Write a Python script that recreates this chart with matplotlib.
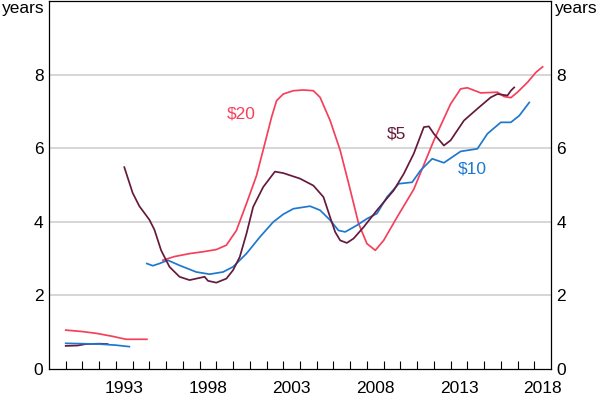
import matplotlib
matplotlib.use('Agg')
import matplotlib.pyplot as plt

plt.rcParams['font.family'] = ['Liberation Sans', 'DejaVu Sans']

RED = '#f5405c'
MAROON = '#651a3b'
BLUE = '#1f78cf'

# early (pre-1995) segments
red_early_x = [1990, 1991, 1991.85, 1992.8, 1993.6, 1994.85]
red_early_y = [1.05, 1.01, 0.96, 0.88, 0.80, 0.80]
blue_early_x = [1990, 1991, 1992, 1993, 1993.8]
blue_early_y = [0.69, 0.68, 0.67, 0.64, 0.60]
maroon_early_x = [1990, 1990.7, 1991.2, 1992, 1992.5]
maroon_early_y = [0.62, 0.63, 0.67, 0.68, 0.67]

# $5 note
maroon_x = [1993.5, 1994.0, 1994.4, 1995.0, 1995.3, 1995.7, 1996.2, 1996.8, 1997.4,
            1998.0, 1998.3, 1998.5, 1999.0, 1999.6, 2000.0, 2000.4, 2000.8, 2001.2,
            2001.8, 2002.5, 2003.0, 2004.0, 2004.8, 2005.4, 2005.8, 2006.1, 2006.4,
            2006.8, 2007.2, 2007.8, 2008.6, 2009.6, 2010.2, 2010.8, 2011.4, 2011.7,
            2012.0, 2012.6, 2013.0, 2013.8, 2014.6, 2015.4, 2015.8, 2016.4, 2016.6,
            2016.8]
maroon_y = [5.48, 4.78, 4.42, 4.05, 3.78, 3.22, 2.77, 2.50, 2.41,
            2.47, 2.50, 2.39, 2.34, 2.45, 2.68, 3.04, 3.67, 4.40,
            4.94, 5.36, 5.32, 5.17, 4.98, 4.67, 4.12, 3.72, 3.49,
            3.42, 3.54, 3.85, 4.31, 4.85, 5.30, 5.85, 6.57, 6.59,
            6.39, 6.07, 6.21, 6.75, 7.07, 7.38, 7.47, 7.43, 7.56,
            7.65]

# $20 note
red_x = [1995.8, 1996.5, 1997.4, 1998.2, 1999.0, 1999.6, 2000.2, 2000.8, 2001.4,
         2001.8, 2002.3, 2002.6, 2003.0, 2003.6, 2004.2, 2004.8, 2005.2, 2005.8,
         2006.4, 2006.9, 2007.5, 2008.0, 2008.5, 2009.0, 2009.8, 2010.8, 2012.0,
         2013.0, 2013.6, 2014.0, 2014.8, 2015.8, 2016.2, 2016.6, 2017.0, 2017.6,
         2018.1, 2018.5]
red_y = [2.95, 3.05, 3.13, 3.18, 3.24, 3.36, 3.76, 4.49, 5.25,
         5.95, 6.84, 7.29, 7.47, 7.56, 7.58, 7.56, 7.38, 6.75,
         5.94, 5.05, 3.95, 3.40, 3.22, 3.49, 4.12, 4.88, 6.21,
         7.20, 7.61, 7.64, 7.50, 7.52, 7.40, 7.37, 7.52, 7.79,
         8.06, 8.21]

# $10 note
blue_x = [1994.85, 1995.2, 1995.6, 1996.1, 1996.8, 1997.8, 1998.6, 1999.4, 2000.0,
          2000.8, 2001.6, 2002.4, 2003.0, 2003.6, 2004.6, 2005.2, 2005.8, 2006.3,
          2006.7, 2007.4, 2008.0, 2008.6, 2009.2, 2009.9, 2010.7, 2011.2, 2011.9,
          2012.6, 2013.6, 2014.6, 2015.2, 2016.0, 2016.6, 2017.1, 2017.7]
blue_y = [2.86, 2.80, 2.86, 2.95, 2.81, 2.63, 2.57, 2.63, 2.77,
          3.13, 3.58, 3.99, 4.20, 4.35, 4.42, 4.31, 4.04, 3.76,
          3.72, 3.90, 4.08, 4.22, 4.67, 5.03, 5.07, 5.39, 5.71,
          5.60, 5.91, 5.98, 6.39, 6.70, 6.70, 6.88, 7.24]

year_labels = ['1993', '1998', '2003', '2008', '2013', '2018']
y_ticks = [0, 2, 4, 6, 8]

FS = 12.5

fig = plt.figure(figsize=(6, 3.95), dpi=100)
ax = fig.add_axes([49 / 600, 1 - 368.7 / 395, 502 / 600, 367.7 / 395])

for y in y_ticks[1:]:
    ax.axhline(y, color='#cccccc', lw=1.1, zorder=1)

lw = 1.25
ax.plot(maroon_early_x, maroon_early_y, color=MAROON, lw=lw, zorder=2)
ax.plot(blue_early_x, blue_early_y, color=BLUE, lw=lw, zorder=3)
ax.plot(red_early_x, red_early_y, color=RED, lw=lw, zorder=3)
ax.plot(red_x, red_y, color=RED, lw=lw, zorder=3)
ax.plot(blue_x, blue_y, color=BLUE, lw=lw, zorder=3)
ax.plot(maroon_x, maroon_y, color=MAROON, lw=lw, zorder=4)

ax.text(2000.5, 6.94, '$20', color=RED, fontsize=FS, ha='center', va='center')
ax.text(2009.74, 6.37, '$5', color=MAROON, fontsize=FS, ha='center', va='center')
ax.text(2014.27, 5.44, '$10', color=BLUE, fontsize=FS, ha='center', va='center')

ax.set_xlim(1989, 2019)
ax.set_ylim(0, 10)

ax.set_xticks(range(1990, 2019))
ax.set_xticklabels([])
ax.set_xticks([int(s) + 0.5 for s in year_labels], labels=year_labels, minor=True)
ax.tick_params(axis='x', which='major', direction='in', length=6, width=0.8)
ax.tick_params(axis='x', which='minor', length=0, pad=8.5, labelsize=FS)

ax.set_yticks(y_ticks)
ax.tick_params(axis='y', length=0, pad=4, labelsize=FS, labelleft=True, labelright=True)

for s in ax.spines.values():
    s.set_linewidth(0.9)

ax.text(-0.008, 1.0, 'years', transform=ax.transAxes, ha='right', va='top', fontsize=FS)
ax.text(1.008, 1.0, 'years', transform=ax.transAxes, ha='left', va='top', fontsize=FS)

fig.savefig('out.png', dpi=100)
